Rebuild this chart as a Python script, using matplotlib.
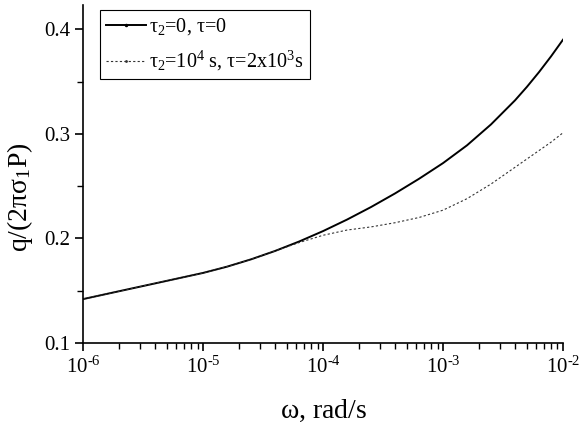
import numpy as np
import matplotlib
matplotlib.use('Agg')
import matplotlib.pyplot as plt
from matplotlib.lines import Line2D
from matplotlib.ticker import LogLocator, MultipleLocator

# log10(omega) sample points
log_w = [-6.0, -5.8, -5.6, -5.4, -5.2, -5.0, -4.8, -4.6, -4.4, -4.2, -4.0,
         -3.8, -3.6, -3.4, -3.2, -3.0, -2.8, -2.6, -2.4, -2.3, -2.2, -2.1, -2.0]
# tau2=0, tau=0
q_solid = [0.142, 0.147, 0.152, 0.157, 0.162, 0.167, 0.173, 0.180, 0.188, 0.197, 0.207,
           0.218, 0.230, 0.243, 0.257, 0.272, 0.289, 0.309, 0.332, 0.345, 0.359, 0.374, 0.390]
# tau2=1e4 s, tau=2e3 s
q_dotted = [0.142, 0.147, 0.152, 0.157, 0.162, 0.167, 0.173, 0.180, 0.188, 0.196, 0.203,
            0.208, 0.211, 0.215, 0.220, 0.227, 0.238, 0.252, 0.268, 0.276, 0.284, 0.292, 0.301]

x_ticks = [1e-6, 1e-5, 1e-4, 1e-3, 1e-2]
x_ticklabels = [r'10$^{\text{-}6}$', r'10$^{\text{-}5}$', r'10$^{\text{-}4}$',
                r'10$^{\text{-}3}$', r'10$^{\text{-}2}$']
y_ticks = [0.1, 0.2, 0.3, 0.4]
y_ticklabels = ['0.1', '0.2', '0.3', '0.4']

label_solid = r'$\tau_2$=0, $\tau$=0'
label_dotted = r'$\tau_2$=10$^4$ s, $\tau$=2x10$^3$s'

plt.rcParams['font.family'] = ['Liberation Serif', 'DejaVu Serif']
plt.rcParams['mathtext.fontset'] = 'custom'
plt.rcParams['mathtext.rm'] = 'Liberation Serif'
plt.rcParams['mathtext.it'] = 'Liberation Serif'
plt.rcParams['mathtext.bf'] = 'Liberation Serif:bold'

fig = plt.figure(figsize=(5.81, 4.32), dpi=100)
ax = fig.add_axes([0.143, 0.206, 0.826, 0.782])

w = 10.0 ** np.array(log_w)
ax.plot(w, q_solid, color='black', lw=1.4)
ax.plot(w, q_dotted, color='#333333', lw=0.8, ls=(0, (2, 2)))

ax.set_xscale('log')
ax.set_xlim(1e-6, 1e-2)
ax.set_ylim(0.1, 0.423)
ax.xaxis.set_minor_locator(LogLocator(base=10, subs=np.arange(2, 10), numticks=20))
ax.set_xticks(x_ticks)
ax.set_xticklabels(x_ticklabels)
ax.yaxis.set_minor_locator(MultipleLocator(0.05))
ax.set_yticks(y_ticks)
ax.set_yticklabels(y_ticklabels)

for s in ['top', 'right']:
    ax.spines[s].set_visible(False)
for s in ['left', 'bottom']:
    ax.spines[s].set_linewidth(1.2)
ax.tick_params(which='major', direction='out', length=6, width=1.2, labelsize=15, pad=4)
ax.tick_params(axis='y', which='major', pad=3)
ax.tick_params(which='minor', direction='out', length=4, width=1.0)

ax.set_xlabel(r'$\omega$, rad/s', fontsize=20, labelpad=14)
ax.set_ylabel(r'q/(2$\pi\sigma_1$P)', fontsize=20)
ax.yaxis.set_label_coords(-0.10, 0.43)

handles = [Line2D([], [], color='black', lw=1.4, marker='.', markersize=3),
           Line2D([], [], color='#333333', lw=0.8, ls=(0, (2, 2)), marker='.', markersize=2)]
leg = ax.legend(handles, [label_solid, label_dotted], loc='upper left',
                bbox_to_anchor=(0.035, 0.985), fontsize=14.5, fancybox=False,
                framealpha=1, edgecolor='black', handlelength=2.0,
                handletextpad=0.15, borderpad=0.3, labelspacing=0.6,
                borderaxespad=0)
leg.get_frame().set_linewidth(0.8)

fig.savefig('out.png', dpi=100)
